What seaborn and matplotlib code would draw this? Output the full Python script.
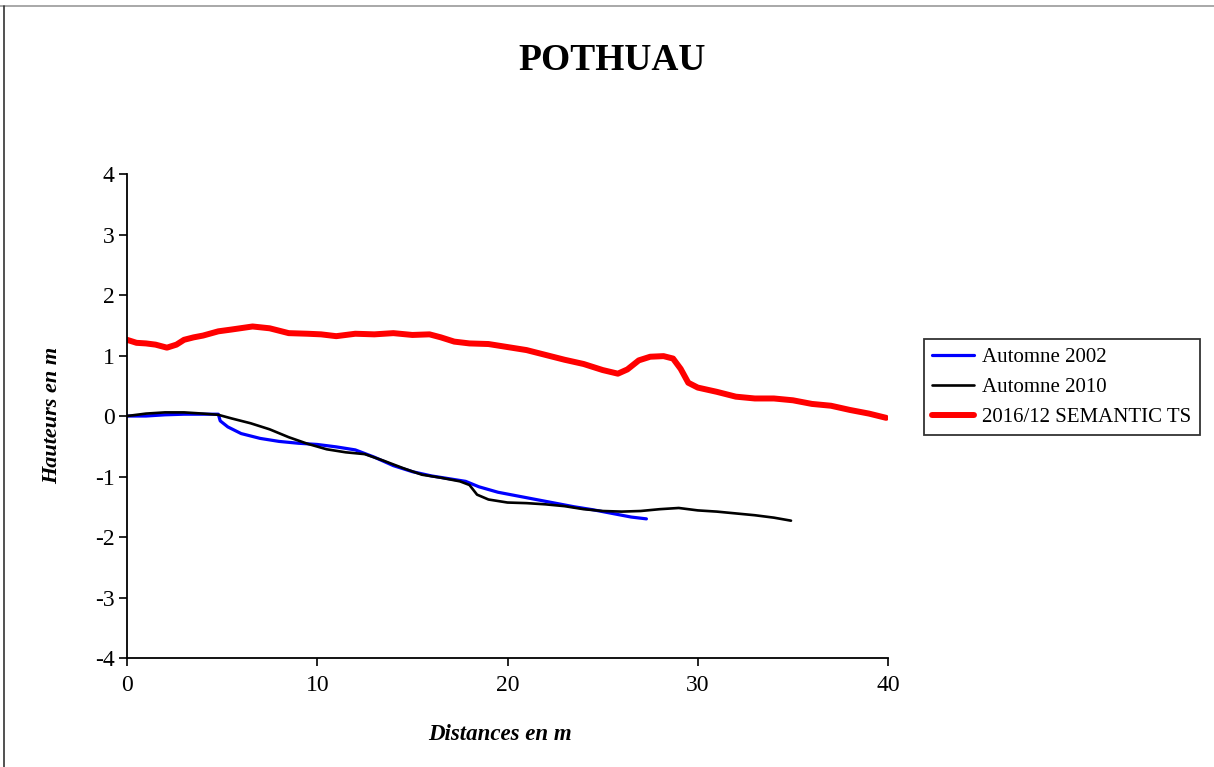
import numpy as np
import pandas as pd
import matplotlib
matplotlib.use("Agg")
import matplotlib.pyplot as plt
import seaborn as sns
from matplotlib.lines import Line2D

# profils de plage - distances (m) et hauteurs (m)
dist_2002 = [0, 1, 2, 3, 4, 4.8, 4.9, 5.3, 6.0, 7.0, 8.0, 9.0, 10.0, 11.0, 12.0, 13.0, 14.0,
             15.0, 16.0, 17.0, 17.8, 18.5, 19.5, 20.5, 21.5, 22.5, 23.5, 24.5, 25.5, 26.5, 27.3]
haut_2002 = [0.0, 0.0, 0.02, 0.03, 0.03, 0.03, -0.08, -0.18, -0.29, -0.37, -0.42, -0.45, -0.47,
             -0.51, -0.56, -0.68, -0.82, -0.92, -0.99, -1.04, -1.08, -1.17, -1.26, -1.32, -1.38,
             -1.44, -1.50, -1.55, -1.61, -1.67, -1.70]

dist_2010 = [0, 1, 2, 3, 4, 4.8, 5.5, 6.5, 7.5, 8.5, 9.5, 10.5, 11.5, 12.5, 13.5, 14.5, 15.5,
             16.5, 17.5, 18.0, 18.4, 19.0, 20.0, 21.0, 22.0, 23.0, 24.0, 25.0, 26.0, 27.0, 28.0,
             29.0, 30.0, 31.0, 32.0, 33.0, 34.0, 34.9]
haut_2010 = [0.0, 0.04, 0.06, 0.06, 0.04, 0.02, -0.04, -0.12, -0.22, -0.35, -0.46, -0.55, -0.60,
             -0.63, -0.74, -0.86, -0.97, -1.02, -1.08, -1.14, -1.30, -1.38, -1.43, -1.44, -1.46,
             -1.49, -1.54, -1.57, -1.58, -1.57, -1.54, -1.52, -1.56, -1.58, -1.61, -1.64, -1.68,
             -1.73]

dist_2016 = [0, 0.5, 1, 1.5, 2.1, 2.6, 3.0, 3.5, 4.0, 4.8, 5.5, 6.6, 7.5, 8.5, 9.5, 10.2, 11.0,
             12.0, 13.0, 14.0, 15.0, 15.9, 16.5, 17.2, 18.0, 19.0, 20.0, 21.0, 22.0, 23.0, 24.0,
             25.0, 25.8, 26.3, 26.9, 27.5, 28.2, 28.7, 29.1, 29.5, 30.0, 31.0, 32.0, 33.0, 34.0,
             35.0, 36.0, 37.0, 38.0, 39.0, 39.9]
haut_2016 = [1.26, 1.21, 1.20, 1.18, 1.13, 1.18, 1.26, 1.30, 1.33, 1.40, 1.43, 1.48, 1.45, 1.37,
             1.36, 1.35, 1.32, 1.36, 1.35, 1.37, 1.34, 1.35, 1.30, 1.23, 1.20, 1.19, 1.14, 1.09,
             1.01, 0.93, 0.86, 0.76, 0.70, 0.77, 0.92, 0.98, 0.99, 0.95, 0.78, 0.55, 0.47, 0.40,
             0.32, 0.29, 0.29, 0.26, 0.20, 0.17, 0.10, 0.04, -0.03]

labels = ["Automne 2002", "Automne 2010", "2016/12 SEMANTIC TS"]
colors = ["#0000ff", "#000000", "#ff0000"]
widths = [2.3, 1.9, 4.3]

df = pd.concat([
    pd.DataFrame({"dist": dist_2002, "haut": haut_2002, "serie": labels[0]}),
    pd.DataFrame({"dist": dist_2010, "haut": haut_2010, "serie": labels[1]}),
    pd.DataFrame({"dist": dist_2016, "haut": haut_2016, "serie": labels[2]}),
], ignore_index=True)

sns.set_style("white")
plt.rcParams["font.family"] = ["Liberation Serif", "DejaVu Serif"]
plt.rcParams["axes.unicode_minus"] = False
plt.rcParams["text.color"] = "black"

fig = plt.figure(figsize=(12.14, 7.67), dpi=100)
ax = fig.add_axes([0.1046, 0.1421, 0.6269, 0.6310])

for lab, col, lw in zip(labels, colors, widths):
    sub = df[df["serie"] == lab]
    sns.lineplot(data=sub, x="dist", y="haut", ax=ax, color=col, linewidth=lw,
                 label=lab, sort=False, estimator=None)

ax.set_xlim(0, 40)
ax.set_ylim(-4, 4)
ax.set_xticks([0, 10, 20, 30, 40])
ax.set_yticks(range(-4, 5))
ax.tick_params(axis="both", direction="out", length=6, width=1.2, labelsize=17,
               colors="black", bottom=True, left=True)
ax.tick_params(axis="x", pad=6)
ax.tick_params(axis="y", pad=3)
for s in ["top", "right"]:
    ax.spines[s].set_visible(False)
for s in ["left", "bottom"]:
    ax.spines[s].set_color("black")
    ax.spines[s].set_linewidth(1.3)

ax.set_xlabel("")
ax.set_ylabel("")
fig.text(0.412, 0.043, "Distances en m", ha="center", va="center",
         fontsize=16.5, fontweight="bold", fontstyle="italic")
fig.text(0.043, 0.458, "Hauteurs en m", ha="center", va="center", rotation=90,
         fontsize=16, fontweight="bold", fontstyle="italic")
fig.text(0.504, 0.921, "POTHUAU", ha="center", va="center", fontsize=27, fontweight="bold")

leg = ax.legend(loc="upper left", bbox_to_anchor=(0.761, 0.558), bbox_transform=fig.transFigure,
                fontsize=15, frameon=True, fancybox=False, borderpad=0.4, labelspacing=0.5,
                handlelength=2.0, handletextpad=0.4, borderaxespad=0)
leg.get_frame().set_edgecolor("black")
leg.get_frame().set_linewidth(1.3)

# cadre gris de l'image
fig.add_artist(Line2D([0.0, 1.0], [0.992, 0.992], color="#999999", linewidth=1.2))
fig.add_artist(Line2D([0.003, 0.003], [0.0, 0.992], color="#333333", linewidth=1.2))

fig.savefig("out.png", dpi=100)
